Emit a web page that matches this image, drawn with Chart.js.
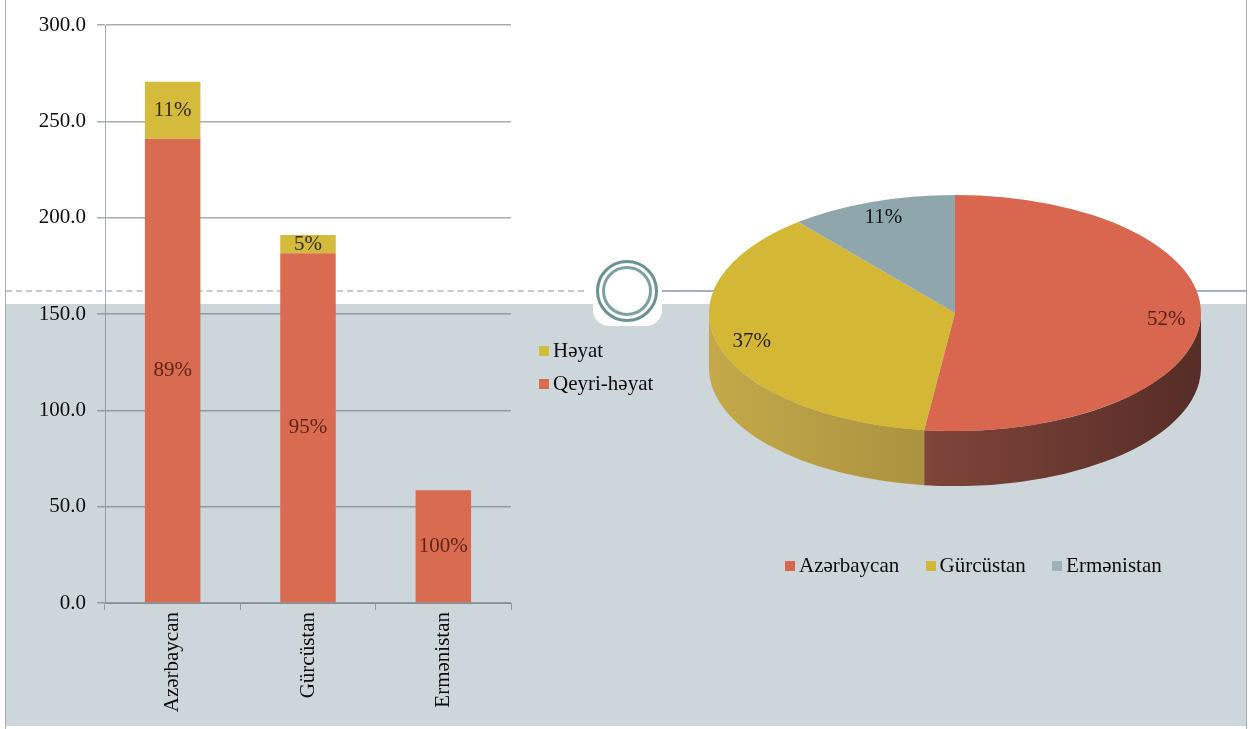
<!DOCTYPE html>
<html>
<head>
<meta charset="utf-8">
<script src="https://cdn.jsdelivr.net/npm/chart.js@4.4.1/dist/chart.umd.min.js"></script>
<style>
  body { margin: 0; width: 1250px; height: 729px; background: #fff; position: relative; overflow: hidden;
         font-family: "Liberation Serif", "Times New Roman", serif; color: #0d0d0d; }
  .abs { position: absolute; }
  #panel { left: 6px; top: 304px; width: 1240px; height: 422px; background: #cdd6db; }
  #edgeL { left: 5px; top: 0; width: 1px; height: 729px; background: #a7adb0; }
  #edgeR { left: 1246px; top: 0; width: 1px; height: 729px; background: #a7adb0; }
  #dashL { left: 6px; top: 290px; width: 578px; border-top: 2px dashed #c4cacd; }
  #dashR { left: 662px; top: 290px; width: 584px; border-top: 2px solid #a3b3b8; }
  #tab { left: 593px; top: 300px; width: 69px; height: 26px; background: #fff; border-radius: 0 0 16px 16px; }
  .ring { border-radius: 50%; box-sizing: border-box; }
  #ring1 { left: 596px; top: 260px; width: 62px; height: 62px; border: 3px solid #6b9292; }
  #ring2 { left: 602px; top: 266px; width: 50px; height: 50px; border: 3px solid #7ba2a2; }
  canvas { position: absolute; top: 0; }
  #bars { left: 0; }
  #pie { left: 520px; }
  .legend { font-size: 21px; line-height: 33px; white-space: nowrap; }
  .legend .sw { display: inline-block; width: 10px; height: 10px; margin-right: 4px; vertical-align: 1px; }
  #legBars { left: 539px; top: 334px; }
  #legPie { left: 785px; top: 549px; }
  #legPie span.item { margin-right: 21px; }
</style>
</head>
<body>
<div id="panel" class="abs"></div>
<div id="edgeL" class="abs"></div>
<div id="edgeR" class="abs"></div>
<div id="dashL" class="abs"></div>
<div id="dashR" class="abs"></div>
<div id="tab" class="abs"></div>
<div id="ring1" class="abs ring"></div>
<div id="ring2" class="abs ring"></div>

<canvas id="bars" width="520" height="729"></canvas>
<canvas id="pie" width="730" height="729"></canvas>

<div id="legBars" class="abs legend">
  <div><span class="sw" style="background:#d5bb3b"></span>Həyat</div>
  <div><span class="sw" style="background:#d96b50"></span>Qeyri-həyat</div>
</div>
<div id="legPie" class="abs legend">
  <span class="item"><span class="sw" style="background:#d9664e"></span>Azərbaycan</span>
  <span class="item"><span class="sw" style="background:#d3b735"></span>Gürcüstan</span>
  <span class="item"><span class="sw" style="background:#9fb1b5"></span>Ermənistan</span>
</div>

<script>
const countries = ['Azərbaycan', 'Gürcüstan', 'Ermənistan'];
const heyat = [29.5, 9.5, 0];
const qeyriHeyat = [241, 181.5, 58.5];
const yTicks = [0, 50, 100, 150, 200, 250, 300];
const shares = [52, 37, 11];

const totals = countries.map((c, i) => heyat[i] + qeyriHeyat[i]);

Chart.defaults.font.family = '"Liberation Serif", "Times New Roman", serif';
Chart.defaults.font.size = 21;
Chart.defaults.color = '#0d0d0d';

const gridColor = 'rgba(95,105,115,0.55)';

// percent of each stack, written in the middle of its segment
const barLabels = {
  id: 'barLabels',
  afterDatasetsDraw(chart) {
    const ctx = chart.ctx;
    ctx.save();
    ctx.font = '21px "Liberation Serif", serif';
    ctx.textAlign = 'center';
    ctx.textBaseline = 'middle';
    chart.data.datasets.forEach((ds, di) => {
      chart.getDatasetMeta(di).data.forEach((bar, i) => {
        const v = ds.data[i];
        if (!v) return;
        ctx.fillStyle = ds.textColor;
        ctx.fillText(Math.round(v / totals[i] * 100) + '%', bar.x, (bar.y + bar.base) / 2);
      });
    });
    ctx.restore();
  }
};

const barChart = new Chart(document.getElementById('bars'), {
  type: 'bar',
  data: {
    labels: countries,
    datasets: [
      { label: 'Qeyri-həyat', data: qeyriHeyat, backgroundColor: '#d96b50', textColor: '#5e2419' },
      { label: 'Həyat', data: heyat, backgroundColor: '#d5bb3b', textColor: '#33290b' }
    ]
  },
  options: {
    responsive: false,
    animation: false,
    events: [],
    layout: { padding: { top: 25, right: 9, left: 0, bottom: 0 } },
    datasets: { bar: { categoryPercentage: 1, barPercentage: 0.41 } },
    plugins: { legend: { display: false }, tooltip: { enabled: false } },
    scales: {
      x: {
        stacked: true,
        grid: { offset: true, drawOnChartArea: false, tickLength: 7, color: gridColor },
        border: { color: gridColor },
        ticks: { minRotation: 90, maxRotation: 90, padding: 2 },
        afterFit(s) { s.height = 126; }
      },
      y: {
        stacked: true,
        min: yTicks[0],
        max: yTicks[yTicks.length - 1],
        afterBuildTicks(s) { s.ticks = yTicks.map(v => ({ value: v })); },
        ticks: { padding: 11, callback: v => v.toFixed(1) },
        grid: { tickLength: 8, color: gridColor, lineWidth: 1.5 },
        border: { color: gridColor },
        afterFit(s) { s.width = 105; }
      }
    }
  },
  plugins: [barLabels]
});

// flatten the pie into a tilted disc and give it a side wall
const squash = 0.48;
const depth = 55;
const sideColors = [['#a0574a', '#562d27'], ['#c4a94a', '#8a7431'], ['#8aa0a5', '#6d8186']];

const tilt = {
  id: 'tilt',
  beforeDatasetsDraw(chart) {
    const ctx = chart.ctx;
    const arcs = chart.getDatasetMeta(0).data;
    const { x, y, outerRadius: r } = arcs[0];
    ctx.save();
    arcs.forEach((arc, i) => {
      const a0 = Math.max(arc.startAngle, 0);
      const a1 = Math.min(arc.endAngle, Math.PI);
      if (a1 <= a0) return;
      const g = ctx.createLinearGradient(x - r, 0, x + r, 0);
      g.addColorStop(0, sideColors[i][0]);
      g.addColorStop(1, sideColors[i][1]);
      ctx.fillStyle = g;
      ctx.beginPath();
      ctx.ellipse(x, y, r, r * squash, 0, a0, a1);
      ctx.ellipse(x, y + depth, r, r * squash, 0, a1, a0, true);
      ctx.closePath();
      ctx.fill();
    });
    ctx.restore();
    ctx.save();
    ctx.translate(x, y);
    ctx.scale(1, squash);
    ctx.translate(-x, -y);
  },
  afterDatasetsDraw(chart) {
    const ctx = chart.ctx;
    ctx.restore();
    const arcs = chart.getDatasetMeta(0).data;
    const colors = ['#52221b', '#231e0c', '#111111'];
    ctx.save();
    ctx.font = '21px "Liberation Serif", serif';
    ctx.textAlign = 'center';
    ctx.textBaseline = 'middle';
    arcs.forEach((arc, i) => {
      const mid = (arc.startAngle + arc.endAngle) / 2;
      const rr = arc.outerRadius * 0.86;
      ctx.fillStyle = colors[i];
      ctx.fillText(shares[i] + '%', arc.x + Math.cos(mid) * rr, arc.y + Math.sin(mid) * rr * squash);
    });
    ctx.restore();
  }
};

const pieChart = new Chart(document.getElementById('pie'), {
  type: 'pie',
  data: {
    labels: countries,
    datasets: [{ data: shares, backgroundColor: ['#d9664e', '#d3b735', '#8fa7ac'], borderWidth: 0 }]
  },
  options: {
    responsive: false,
    animation: false,
    events: [],
    layout: { padding: { left: 189, right: 49, top: 67, bottom: 170 } },
    plugins: { legend: { display: false }, tooltip: { enabled: false } }
  },
  plugins: [tilt]
});
</script>
</body>
</html>
